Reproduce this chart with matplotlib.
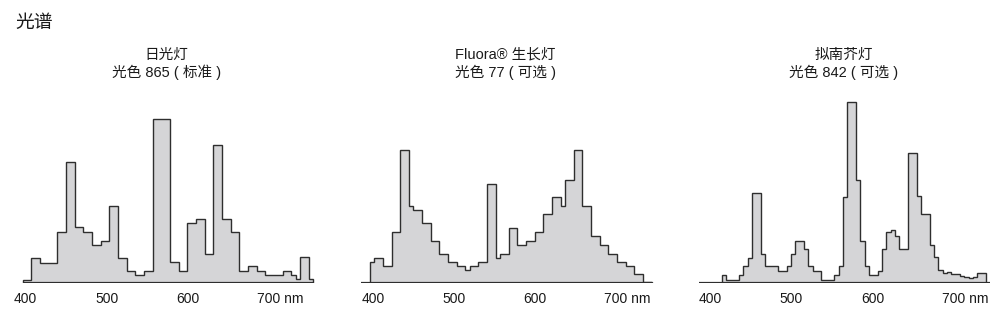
import numpy as np
import matplotlib
matplotlib.use("Agg")
import matplotlib.pyplot as plt
from matplotlib.transforms import ScaledTranslation

plt.rcParams['font.family'] = ['Liberation Sans', 'Noto Sans CJK SC', 'DejaVu Sans']

# ---------------- data ----------------
page_title = "光谱"
title_line1 = ["日光灯", "Fluora® 生长灯", "拟南芥灯"]
title_line2 = ["光色 865 ( 标准 )", "光色 77 ( 可选 )", "光色 842 ( 可选 )"]
tick_values = [400, 500, 600, 700]
tick_labels = ["400", "500", "600", "700 nm"]

bin_nm = 5.35  # finest bin width (nm)

# panel 1: 日光灯 865
p1_start = 396.3
p1_widths = [2, 2, 4, 2, 2, 2, 2, 2, 2, 2, 2, 2, 2, 2, 4, 2, 2, 2, 2, 2, 2, 2, 2, 2, 2, 2, 4, 2, 1, 1, 2, 1]
p1_values = [3.5, 25.3, 20.3, 51.3, 120.7, 55.7, 51.3, 38.3, 42.3, 77.3, 25.3, 12, 8, 12, 163.7, 20.7,
             12, 59.7, 64.3, 29.3, 138.3, 64.3, 51.3, 12, 17, 12.5, 8.5, 12.5, 8.5, 4, 26, 4]
p1_base = [396.3, 755.1]

# panel 2: Fluora 77
p2_start = 396.3
p2_widths = [1, 2, 2, 2, 2, 1, 2, 2, 2, 2, 2, 2, 1, 2, 2, 2, 1, 2, 2, 2, 2, 2, 2, 2, 1, 2, 2, 2, 2, 2,
             2, 2, 2, 2, 2]
p2_values = [21, 25.3, 16.7, 51.3, 133.3, 77.3, 73.3, 60, 42.3, 29.3, 20.7, 16.7, 12.7, 16.7, 21, 99.3,
             25.3, 29.3, 55.3, 38.3, 42.3, 51.3, 68.7, 86, 77.3, 103.3, 133.3, 77.3, 47, 38.3, 29.3,
             20.7, 16.7, 8.7, 0.7]
p2_base = [384.8, 744.1]

# panel 3: 拟南芥灯 842
p3_start = 413.8
p3_widths = [1, 3, 1, 1, 1, 2, 1, 3, 2, 1, 1, 2, 1, 1, 2, 3, 1, 1, 1, 2, 1, 1, 1, 2, 1, 1, 1, 1, 1, 2,
             2, 1, 2, 1, 1, 1, 1, 1, 1, 1, 1, 1, 1, 1, 2]
p3_values = [8.3, 3.3, 8.3, 16.7, 25.3, 90, 29.3, 16.7, 12.3, 16.7, 29.3, 42.3, 33.7, 16.7, 12.3, 3.3,
             8.3, 16.7, 86, 181, 103.3, 42.3, 16.7, 7.7, 12.3, 33.7, 51, 53.3, 47, 34, 130, 86.7, 69.3,
             38.3, 26, 13.3, 10, 11, 9.3, 8.7, 7.3, 5.7, 5, 6, 10.5]
p3_base = [386.2, 745.0]

panels = [
    (p1_start, p1_widths, p1_values, p1_base),
    (p2_start, p2_widths, p2_values, p2_base),
    (p3_start, p3_widths, p3_values, p3_base),
]

# ---------------- layout ----------------
W, H = 996, 320
fig = plt.figure(figsize=(W / 100, H / 100), dpi=100)
fig.patch.set_facecolor('white')

ax_left_px = [9.5, 356.8, 694.3]
ax_w_px = 307.8
base_px = 283.0
ax_h_px = 185.0
title_cx = [166.5, 505.0, 843.7]

fill_c = '#d5d5d7'
edge_c = '#2e2e2e'
text_c = '#1a1a1a'

for i, (start, widths, values, base) in enumerate(panels):
    ax = fig.add_axes([ax_left_px[i] / W, (H - base_px) / H, ax_w_px / W, ax_h_px / H])
    edges = start + bin_nm * np.concatenate([[0], np.cumsum(widths)])
    ax.stairs(values, edges, fill=True, color=fill_c, lw=0)
    ax.stairs(values, edges, baseline=0, color=edge_c, lw=1.0)
    ax.plot(base, [0, 0], color=edge_c, lw=1.6, solid_capstyle='butt')
    ax.set_xlim(380, 760)
    ax.set_ylim(0, 185)
    for s in ax.spines.values():
        s.set_visible(False)
    ax.set_yticks([])
    ax.set_xticks(tick_values)
    ax.set_xticklabels(tick_labels)
    ax.tick_params(axis='x', length=0, pad=6.3, labelsize=10, labelcolor=text_c)
    ax.patch.set_visible(False)
    last = ax.get_xticklabels()[-1]
    last.set_horizontalalignment('left')
    last.set_transform(last.get_transform() + ScaledTranslation(-11.6 / 100, 0, fig.dpi_scale_trans))

    fig.text(title_cx[i] / W, 1 - 54.7 / H, title_line1[i], ha='center', va='center',
             fontsize=10.5, color=text_c)
    fig.text(title_cx[i] / W, 1 - 72.5 / H, title_line2[i], ha='center', va='center',
             fontsize=10.5, color=text_c)

fig.text(15 / W, 1 - 23.7 / H, page_title, ha='left', va='center', fontsize=13.5, color=text_c)

fig.savefig("out.png", dpi=100, facecolor='white')
